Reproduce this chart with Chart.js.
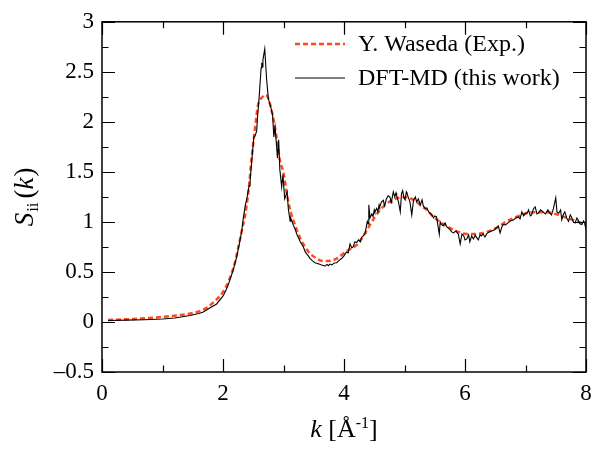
<!DOCTYPE html>
<html>
<head>
<meta charset="utf-8">
<script src="https://cdn.jsdelivr.net/npm/chart.js@4.4.1/dist/chart.umd.min.js"></script>
<style>
    html, body { margin: 0; padding: 0; background: #fff; }
    #wrap { width: 605px; height: 449px; }
</style>
</head>
<body>
<div id="wrap"><canvas id="sqChart" width="605" height="449"></canvas></div>
<script>
// experimental curve (Y. Waseda)
const kExp = [0.1, 0.5, 1.0, 1.3, 1.5, 1.7, 1.85, 2.0, 2.1, 2.2, 2.25, 2.31, 2.36, 2.42, 2.47, 2.53, 2.58, 2.64, 2.71, 2.78, 2.86, 2.94, 3.0, 3.05, 3.11, 3.19, 3.27, 3.36, 3.44, 3.55, 3.66, 3.77, 3.88, 3.99, 4.1, 4.21, 4.32, 4.43, 4.51, 4.6, 4.68, 4.79, 4.9, 5.01, 5.15, 5.26, 5.37, 5.48, 5.61, 5.75, 5.89, 6.03, 6.19, 6.36, 6.52, 6.69, 6.85, 7.02, 7.19, 7.35, 7.51, 7.68, 7.85, 8.0];
const sExp = [0.02, 0.03, 0.05, 0.07, 0.09, 0.13, 0.2, 0.3, 0.42, 0.6, 0.74, 0.91, 1.05, 1.3, 1.62, 1.94, 2.17, 2.24, 2.27, 2.17, 1.94, 1.62, 1.49, 1.3, 1.12, 0.97, 0.845, 0.747, 0.683, 0.634, 0.608, 0.611, 0.634, 0.683, 0.73, 0.77, 0.86, 0.97, 1.05, 1.12, 1.17, 1.216, 1.24, 1.248, 1.22, 1.17, 1.12, 1.05, 0.99, 0.94, 0.9, 0.88, 0.88, 0.9, 0.94, 1.006, 1.05, 1.087, 1.097, 1.097, 1.077, 1.04, 1.006, 0.97];

// simulation curve (DFT-MD)
const kDft = [0.1, 0.4, 0.7, 1.0, 1.2, 1.455, 1.6, 1.675, 1.78, 1.895, 2.005, 2.05, 2.09, 2.13, 2.17, 2.2, 2.226, 2.27, 2.31, 2.336, 2.37, 2.4, 2.43, 2.446, 2.46, 2.485, 2.51, 2.53, 2.557, 2.57, 2.6, 2.62, 2.63, 2.64, 2.65, 2.66, 2.69, 2.72, 2.75, 2.78, 2.82, 2.84, 2.86, 2.88, 2.9, 2.92, 2.94, 2.97, 2.99, 3.02, 3.06, 3.08, 3.11, 3.12, 3.16, 3.19, 3.22, 3.25, 3.27, 3.3, 3.33, 3.36, 3.38, 3.41, 3.44, 3.48, 3.52, 3.56, 3.6, 3.63, 3.66, 3.69, 3.72, 3.74, 3.77, 3.8, 3.84, 3.88, 3.92, 3.96, 4.0, 4.04, 4.07, 4.1, 4.13, 4.15, 4.18, 4.21, 4.24, 4.27, 4.29, 4.32, 4.35, 4.385, 4.4, 4.41, 4.43, 4.46, 4.48, 4.5, 4.51, 4.54, 4.56, 4.58, 4.59, 4.62, 4.65, 4.67, 4.68, 4.7, 4.73, 4.76, 4.78, 4.79, 4.815, 4.84, 4.86, 4.87, 4.9, 4.93, 4.95, 4.97, 4.99, 5.01, 5.03, 5.04, 5.06, 5.09, 5.12, 5.15, 5.18, 5.2, 5.23, 5.26, 5.29, 5.31, 5.34, 5.37, 5.4, 5.42, 5.45, 5.48, 5.5, 5.53, 5.575, 5.59, 5.61, 5.64, 5.67, 5.7, 5.75, 5.78, 5.81, 5.85, 5.89, 5.92, 5.95, 5.98, 6.0, 6.03, 6.06, 6.08, 6.11, 6.14, 6.17, 6.19, 6.22, 6.25, 6.27, 6.3, 6.33, 6.36, 6.4, 6.44, 6.48, 6.52, 6.55, 6.58, 6.61, 6.63, 6.67, 6.71, 6.75, 6.8, 6.84, 6.88, 6.91, 6.94, 6.97, 7.0, 7.03, 7.05, 7.08, 7.1, 7.13, 7.16, 7.19, 7.21, 7.25, 7.29, 7.33, 7.37, 7.4, 7.43, 7.46, 7.5, 7.52, 7.55, 7.58, 7.6, 7.63, 7.65, 7.68, 7.71, 7.74, 7.76, 7.79, 7.82, 7.85, 7.87, 7.9, 7.93, 7.96, 7.98, 8.0];
const sDft = [0.015, 0.018, 0.022, 0.03, 0.04, 0.065, 0.085, 0.1, 0.14, 0.18, 0.263, 0.32, 0.376, 0.45, 0.52, 0.59, 0.65, 0.78, 0.91, 1.04, 1.17, 1.25, 1.36, 1.39, 1.5, 1.68, 1.85, 1.86, 1.91, 2.04, 2.27, 2.45, 2.54, 2.59, 2.55, 2.62, 2.73, 2.43, 2.23, 2.17, 2.07, 1.85, 1.95, 1.8, 1.64, 1.82, 1.52, 1.35, 1.47, 1.23, 1.3, 1.13, 1.006, 1.04, 0.97, 0.93, 0.877, 0.84, 0.81, 0.78, 0.747, 0.7, 0.683, 0.66, 0.634, 0.61, 0.592, 0.585, 0.576, 0.57, 0.565, 0.56, 0.575, 0.562, 0.579, 0.57, 0.59, 0.592, 0.615, 0.634, 0.66, 0.7, 0.69, 0.78, 0.74, 0.75, 0.8, 0.796, 0.82, 0.8, 0.845, 0.86, 0.89, 1.006, 0.98, 1.17, 1.04, 1.08, 1.054, 1.12, 1.1, 1.135, 1.1, 1.17, 1.15, 1.2, 1.216, 1.16, 1.18, 1.23, 1.26, 1.248, 1.19, 1.22, 1.3, 1.25, 1.29, 1.265, 1.2, 1.1, 1.28, 1.313, 1.24, 1.22, 1.3, 1.29, 1.25, 1.2, 1.07, 1.22, 1.25, 1.2, 1.23, 1.17, 1.22, 1.16, 1.135, 1.14, 1.1, 1.087, 1.07, 1.04, 1.06, 1.05, 0.877, 1.0, 0.974, 0.96, 0.99, 0.95, 0.925, 0.9, 0.89, 0.91, 0.877, 0.78, 0.88, 0.86, 0.82, 0.83, 0.87, 0.8, 0.86, 0.83, 0.87, 0.845, 0.82, 0.87, 0.86, 0.88, 0.85, 0.883, 0.9, 0.91, 0.92, 0.94, 0.96, 0.89, 0.95, 0.974, 0.97, 0.99, 1.01, 1.02, 1.04, 1.05, 1.03, 1.1, 1.06, 1.087, 1.09, 1.12, 1.06, 1.07, 1.13, 1.15, 1.08, 1.087, 1.12, 1.1, 1.08, 1.12, 1.09, 1.07, 1.13, 1.24, 1.1, 1.087, 1.12, 1.02, 1.08, 1.1, 1.04, 1.006, 1.07, 1.05, 1.0, 0.99, 1.04, 1.02, 0.98, 0.974, 1.01, 0.99, 0.925];

const xMajor = [0, 2, 4, 6, 8];
const xMinor = [1, 3, 5, 7];
const yMajor = [-0.5, 0, 0.5, 1, 1.5, 2, 2.5, 3];
const yMinor = [-0.25, 0.25, 0.75, 1.25, 1.75, 2.25, 2.75];

const seriesNames = ['Y. Waseda (Exp.)', 'DFT-MD (this work)'];

const SERIF = '"Liberation Serif", "DejaVu Serif", serif';
const expColor = '#ff4a1c';

function toPoints(xs, ys) {
    return xs.map((x, i) => ({ x: x, y: ys[i] }));
}

// frame box + inward ticks on all four sides
const frameTicks = {
    id: 'frameTicks',
    afterDatasetsDraw(chart) {
        const { ctx, chartArea: a, scales } = chart;
        const xs = scales.x, ys = scales.y;
        ctx.save();
        ctx.strokeStyle = '#000';
        ctx.lineWidth = 1.5;
        ctx.strokeRect(a.left, a.top, a.right - a.left, a.bottom - a.top);
        ctx.lineWidth = 1.2;
        ctx.beginPath();
        const drawX = (vals, len) => {
            vals.forEach(v => {
                const p = Math.round(xs.getPixelForValue(v)) + 0.5;
                ctx.moveTo(p, a.bottom); ctx.lineTo(p, a.bottom - len);
                ctx.moveTo(p, a.top); ctx.lineTo(p, a.top + len);
            });
        };
        const drawY = (vals, len) => {
            vals.forEach(v => {
                const p = Math.round(ys.getPixelForValue(v)) + 0.5;
                ctx.moveTo(a.left, p); ctx.lineTo(a.left + len, p);
                ctx.moveTo(a.right, p); ctx.lineTo(a.right - len, p);
            });
        };
        drawX(xMajor, 13);
        drawX(xMinor, 6.5);
        drawY(yMajor, 13);
        drawY(yMinor, 6.5);
        ctx.stroke();
        ctx.restore();
    }
};

// axis titles with italic / sub / superscript parts
const axisTitles = {
    id: 'axisTitles',
    afterDraw(chart) {
        const { ctx, chartArea: a } = chart;
        ctx.save();
        ctx.fillStyle = '#000';
        ctx.textBaseline = 'alphabetic';
        ctx.textAlign = 'left';

        // x title: k [Å^-1]
        const partsX = [
            { t: 'k', f: 'italic 26px ' + SERIF, dy: 0 },
            { t: ' [Å', f: '26px ' + SERIF, dy: 0 },
            { t: '-1', f: '16px ' + SERIF, dy: -9 },
            { t: ']', f: '26px ' + SERIF, dy: 0 }
        ];
        let w = 0;
        partsX.forEach(p => { ctx.font = p.f; p.w = ctx.measureText(p.t).width; w += p.w; });
        let x = (a.left + a.right) / 2 - w / 2;
        partsX.forEach(p => { ctx.font = p.f; ctx.fillText(p.t, x, 437 + p.dy); x += p.w; });

        // y title: S_ii(k), rotated
        const partsY = [
            { t: 'S', f: 'italic 27px ' + SERIF, dy: 0, gap: 1 },
            { t: 'ii', f: '17px ' + SERIF, dy: 5, gap: 4 },
            { t: '(', f: '27px ' + SERIF, dy: 0, gap: 0 },
            { t: 'k', f: 'italic 27px ' + SERIF, dy: 0, gap: 1 },
            { t: ')', f: '27px ' + SERIF, dy: 0, gap: 0 }
        ];
        w = 0;
        partsY.forEach(p => { ctx.font = p.f; p.w = ctx.measureText(p.t).width; w += p.w + p.gap; });
        ctx.translate(33, (a.top + a.bottom) / 2);
        ctx.rotate(-Math.PI / 2);
        x = -w / 2;
        partsY.forEach(p => { ctx.font = p.f; ctx.fillText(p.t, x, p.dy); x += p.w + p.gap; });
        ctx.restore();
    }
};

// legend inside the plot, top right
const insideLegend = {
    id: 'insideLegend',
    afterDraw(chart) {
        const { ctx } = chart;
        const rows = [
            { ds: chart.data.datasets[0], y: 44 },
            { ds: chart.data.datasets[1], y: 78 }
        ];
        ctx.save();
        rows.forEach(r => {
            ctx.beginPath();
            ctx.strokeStyle = r.ds.borderColor;
            ctx.lineWidth = r.ds.borderWidth;
            ctx.setLineDash(r.ds.borderDash || []);
            ctx.moveTo(295, r.y);
            ctx.lineTo(345, r.y);
            ctx.stroke();
            ctx.setLineDash([]);
            ctx.fillStyle = '#000';
            ctx.font = '24px ' + SERIF;
            ctx.textBaseline = 'middle';
            ctx.textAlign = 'left';
            ctx.fillText(r.ds.label, 358, r.y + 1);
        });
        ctx.restore();
    }
};

const ctx = document.getElementById('sqChart').getContext('2d');

const sqChart = new Chart(ctx, {
    type: 'line',
    data: {
        datasets: [
            {
                label: seriesNames[0],
                data: toPoints(kExp, sExp),
                borderColor: expColor,
                borderWidth: 2.5,
                borderDash: [5, 3],
                pointRadius: 0,
                tension: 0.4,
                cubicInterpolationMode: 'monotone',
                order: 2
            },
            {
                label: seriesNames[1],
                data: toPoints(kDft, sDft),
                borderColor: '#000',
                borderWidth: 1.1,
                pointRadius: 0,
                tension: 0,
                order: 1
            }
        ]
    },
    options: {
        responsive: false,
        animation: false,
        layout: { padding: { top: 11, right: 19, left: 0, bottom: 0 } },
        plugins: {
            legend: { display: false },
            tooltip: { enabled: false },
            title: { display: false }
        },
        scales: {
            x: {
                type: 'linear',
                min: 0,
                max: 8,
                afterBuildTicks: s => { s.ticks = xMajor.map(v => ({ value: v })); },
                afterFit: s => { s.height = 449 - 372; },
                grid: { display: false, drawTicks: false },
                border: { display: false },
                ticks: {
                    color: '#000',
                    font: { family: SERIF, size: 23 },
                    padding: 8,
                    maxRotation: 0,
                    callback: v => String(v)
                }
            },
            y: {
                type: 'linear',
                min: -0.5,
                max: 3,
                afterBuildTicks: s => { s.ticks = yMajor.map(v => ({ value: v })); },
                afterFit: s => { s.width = 102; },
                grid: { display: false, drawTicks: false },
                border: { display: false },
                ticks: {
                    color: '#000',
                    font: { family: SERIF, size: 23 },
                    padding: 8,
                    callback: v => (v < 0 ? '\u2013' + Math.abs(v) : String(v))
                }
            }
        }
    },
    plugins: [frameTicks, axisTitles, insideLegend]
});
</script>
</body>
</html>
